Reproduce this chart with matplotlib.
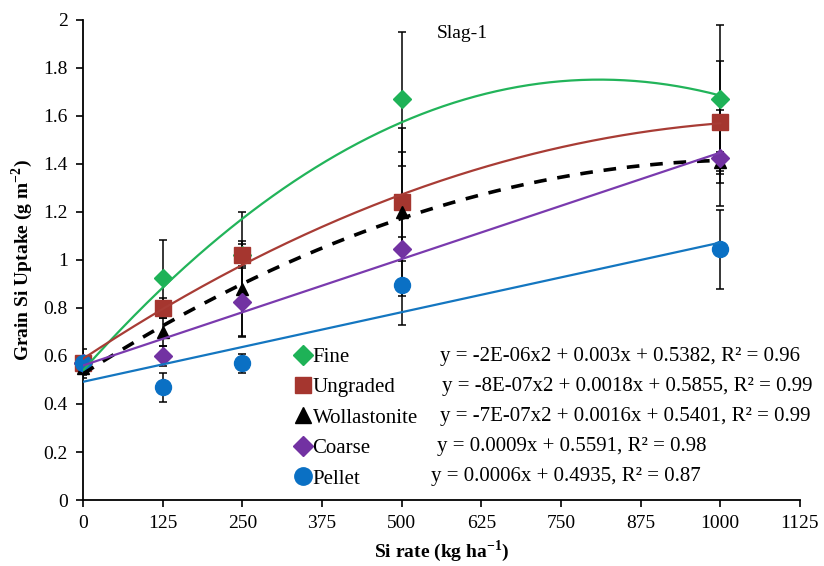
import numpy as np
import matplotlib.pyplot as plt
from matplotlib.lines import Line2D

plt.rcParams['font.family'] = ['Liberation Serif', 'DejaVu Serif']
plt.rcParams['mathtext.fontset'] = 'custom'
plt.rcParams['mathtext.rm'] = 'Liberation Serif'
plt.rcParams['mathtext.bf'] = 'Liberation Serif:bold'

rate = [0, 125, 250, 500, 1000]

names = ['Fine', 'Ungraded', 'Wollastonite', 'Coarse', 'Pellet']
fine = [0.57, 0.925, 1.02, 1.67, 1.67]
ungraded = [0.57, 0.80, 1.02, 1.24, 1.575]
wollastonite = [0.55, 0.70, 0.88, 1.20, 1.41]
coarse = [0.57, 0.60, 0.825, 1.045, 1.425]
pellet = [0.57, 0.47, 0.57, 0.895, 1.045]

fine_err = [0.03, 0.158, 0.18, 0.28, 0.31]
ungraded_err = [0.03, 0.04, 0.045, 0.21, 0.255]
wollastonite_err = [0.03, 0.06, 0.20, 0.35, 0.04]
coarse_err = [0.06, 0.04, 0.14, 0.05, 0.20]
pellet_err = [0.03, 0.06, 0.04, 0.165, 0.165]

# trendline order (2 = poly, 1 = linear)
fit_order = [2, 2, 2, 1, 1]
equations = [
    'y = -2E-06x2 + 0.003x + 0.5382, R\u00b2 = 0.96',
    'y = -8E-07x2 + 0.0018x + 0.5855, R\u00b2 = 0.99',
    'y = -7E-07x2 + 0.0016x + 0.5401, R\u00b2 = 0.99',
    'y = 0.0009x + 0.5591, R\u00b2 = 0.98',
    'y = 0.0006x + 0.4935, R\u00b2 = 0.87',
]

values = [fine, ungraded, wollastonite, coarse, pellet]
errors = [fine_err, ungraded_err, wollastonite_err, coarse_err, pellet_err]
mcolors = ['#1EB257', '#A5362F', '#000000', '#7232A2', '#0A70C4']
lcolors = ['#22B45A', '#A83C35', '#000000', '#7A3AAE', '#1476C0']
markers = ['D', 's', '^', 'D', 'o']
msizes = [9, 11, 9, 9, 11.5]
leg_sizes = [10, 12, 11, 10, 12.5]
lstyles = ['-', '-', (0, (3.5, 3)), '-', '-']
lwidths = [1.6, 1.6, 2.6, 1.6, 1.6]

fig = plt.figure(figsize=(8.24, 5.66), dpi=100)
ax = fig.add_axes([0.1007, 0.1166, 0.8701, 0.8481])

xs = np.linspace(0, 1000, 300)
for i in range(5):
    ax.errorbar(rate, values[i], yerr=errors[i], fmt='none', ecolor='black',
                elinewidth=1.1, capsize=3, capthick=1.1, zorder=2)
for i in range(5):
    ax.plot(rate, values[i], linestyle='none', marker=markers[i], ms=msizes[i],
            color=mcolors[i], mec=mcolors[i], zorder=3, clip_on=False)
for i in range(5):
    coef = np.polyfit(rate, values[i], fit_order[i])
    ax.plot(xs, np.polyval(coef, xs), color=lcolors[i], lw=lwidths[i],
            linestyle=lstyles[i], zorder=4)

ax.set_xlim(0, 1125)
ax.set_ylim(0, 2)
ax.set_xticks(np.arange(0, 1126, 125))
ax.set_yticks(np.arange(0, 2.01, 0.2))
ax.set_yticklabels(['0', '0.2', '0.4', '0.6', '0.8', '1', '1.2', '1.4', '1.6', '1.8', '2'])
ax.tick_params(direction='out', length=5, width=1.2, labelsize=14, pad=6)
for s in ['top', 'right']:
    ax.spines[s].set_visible(False)
for s in ['left', 'bottom']:
    ax.spines[s].set_linewidth(1.3)

ax.set_xlabel(r'Si rate (kg ha$^{\mathbf{-1}}$)', fontsize=14, fontweight='bold', labelpad=4)
ax.set_ylabel(r'Grain Si Uptake (g m$^{\mathbf{-2}}$)', fontsize=14, fontweight='bold', labelpad=6)

ax.text(555, 1.945, 'Slag-1', fontsize=14, va='center', ha='left')

handles = [Line2D([], [], linestyle='none', marker=markers[i], ms=leg_sizes[i],
                  color=mcolors[i]) for i in range(5)]
ax.legend(handles, names, loc='upper left', bbox_to_anchor=(0.297, 0.318),
          frameon=False, fontsize=15, handlelength=0.7, handletextpad=0.1,
          labelspacing=0.52, borderpad=0, borderaxespad=0)

eq_x = [560, 563, 560, 555, 546]
eq_y = [0.596, 0.471, 0.346, 0.221, 0.096]
for i in range(5):
    ax.text(eq_x[i], eq_y[i], equations[i], fontsize=15, va='center', ha='left')

fig.savefig('out.png', dpi=100)
